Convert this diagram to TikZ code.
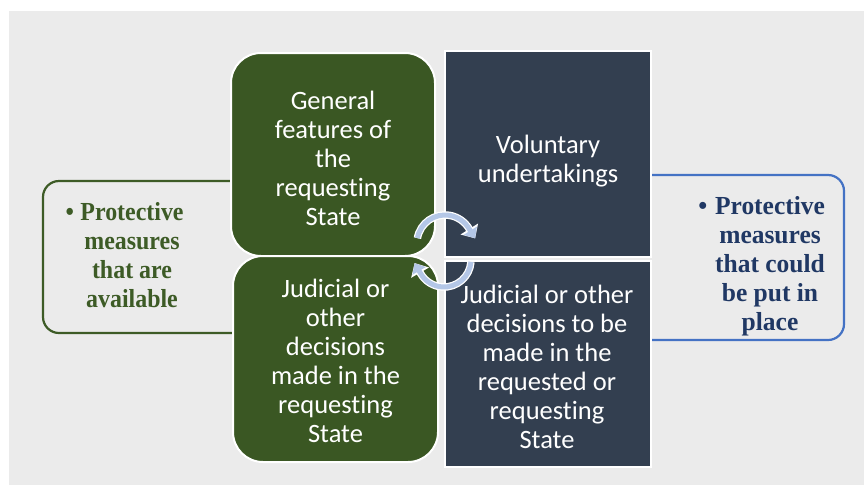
\documentclass[tikz,border=0pt]{standalone}
\usepackage{fontspec}
\usepackage{graphicx}
\usetikzlibrary{arrows.meta}
\newfontfamily\carl{Carlito}[Ligatures={NoCommon}]
\newfontfamily\libser{Liberation Serif}
\definecolor{bggrey}{HTML}{EBEBEB}
\definecolor{boxgreen}{HTML}{3A5723}
\definecolor{boxnavy}{HTML}{333F50}
\definecolor{framegreen}{HTML}{3D5B26}
\definecolor{frameblue}{HTML}{4472C4}
\definecolor{textnavy}{HTML}{203864}
\definecolor{arrowblue}{HTML}{B4C7E7}
\begin{document}
\begin{tikzpicture}[x=1pt,y=-1pt,
  gbox/.style={draw=white, line width=2pt, fill=boxgreen, rounded corners=30pt, inner sep=0pt},
  nbox/.style={draw=white, line width=2pt, fill=boxnavy, inner sep=0pt},
  sideframe/.style={line width=2.2pt, rounded corners=16pt},
  maintext/.style={text=white, align=center, inner sep=0pt, font=\carl\fontsize{26.5}{29}\selectfont},
  sidetext/.style={align=center, inner sep=0pt, transform shape, font=\libser\bfseries\fontsize{26}{29}\selectfont},
  cyclebg/.style={draw=white, line width=7.5pt, -{Triangle[width=20pt,length=11pt]}},
  cyclefg/.style={draw=arrowblue, line width=5pt, -{Triangle[width=15pt,length=9pt]}}
]
\useasboundingbox (0,0) rectangle (864,485);
\fill[bggrey] (9,11) rectangle (864,485);

% side frames (open on the side hidden by the central boxes)
\coordinate (lf1) at (250,181);
\coordinate (lf2) at (250,333);
\coordinate (rf1) at (640,175);
\coordinate (rf2) at (640,340);
\draw[sideframe, draw=framegreen] (lf1) -| (43,333) -- (lf2);
\draw[sideframe, draw=frameblue] (rf1) -| (844,340) -- (rf2);

% main boxes
\node[gbox, minimum width=204pt, minimum height=203pt] (g1) at (333,154.5) {};
\node[gbox, minimum width=205pt, minimum height=206pt] (g2) at (335.5,359) {};
\node[nbox, minimum width=206pt, minimum height=206pt] (n1) at (548,154) {};
\node[nbox, minimum width=206pt, minimum height=206pt] (n2) at (548,364) {};

% cycle arrows
\coordinate (ca) at (445,243);
\coordinate (cb) at (444,260);
\draw[cyclebg] ([shift={(190:28)}]ca) arc[start angle=190,end angle=328,radius=28] -- ++(6.36,10.18);
\draw[cyclefg] ([shift={(190:28)}]ca) arc[start angle=190,end angle=328,radius=28] -- ++(6.36,10.18);
\draw[cyclebg] ([shift={(4:27)}]cb) arc[start angle=4,end angle=150,radius=27] -- ++(-6,-10.4);
\draw[cyclefg] ([shift={(4:27)}]cb) arc[start angle=4,end angle=150,radius=27] -- ++(-6,-10.4);

% main texts
\node[maintext] (t1) at (333,158.5) {General\\features of\\the\\requesting\\State};
\node[maintext] (t2) at (548,160.8) {Voluntary\\undertakings};
\node[maintext] (t3) at (335.5,361) {Judicial or\\other\\decisions\\made in the\\requesting\\State};
\node[maintext] (t4) at (547,366.5) {Judicial or other\\decisions to be\\made in the\\requested or\\requesting\\State};

% side texts
\begin{scope}[shift={(132,255)}, xscale=0.92]
\node[sidetext, text=framegreen] (lt) at (0,0) {\llap{•\hspace{7pt}}Protective\\measures\\that are\\available};
\end{scope}
\begin{scope}[shift={(770,266.4)}, xscale=0.98]
\node[sidetext, text=textnavy] (rt) at (0,0) {\llap{•\hspace{8pt}}Protective\\measures\\that could\\be put in\\place};
\end{scope}
\end{tikzpicture}
\end{document}
